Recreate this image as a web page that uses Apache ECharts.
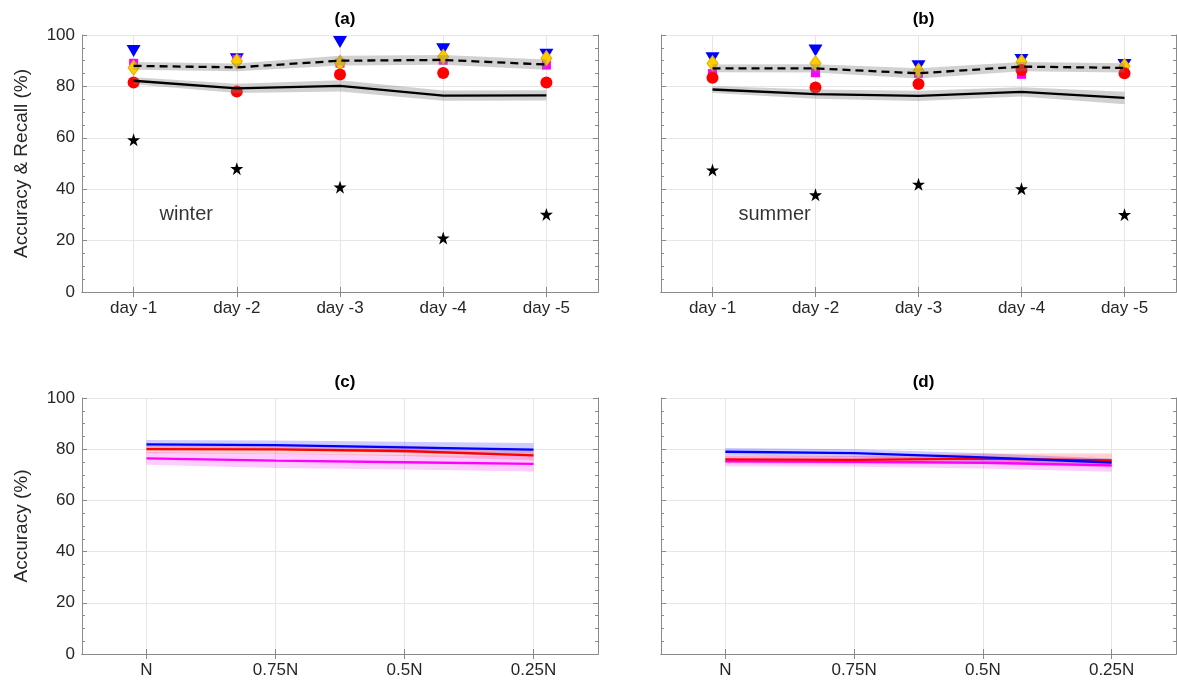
<!DOCTYPE html>
<html>
<head>
<meta charset="utf-8">
<script src="https://cdn.jsdelivr.net/npm/echarts@6/dist/echarts.min.js"></script>
<style>html,body{margin:0;padding:0;background:#fff}#c{width:1177px;height:684px}</style>
</head>
<body>
<div id="c"></div>
<script>
// ---------- data ----------
const dayCats = ['day -1', 'day -2', 'day -3', 'day -4', 'day -5'];
const sizeCats = ['N', '0.75N', '0.5N', '0.25N'];
const yTicks = [0, 20, 40, 60, 80, 100];
const panelTitles = ['(a)', '(b)', '(c)', '(d)'];
const seasonLabels = ['winter', 'summer'];
const seasonLabelY = [30, 30];

// panel (a) winter
const aTriangle = [93.8, 90.6, 97.3, 94.5, 92.3];
const aSquare = [89.0, 90.5, 89.0, 90.2, 88.3];
const aDiamond = [87.3, 89.8, 89.2, 91.5, 91.0];
const aCircle = [81.5, 78.0, 84.6, 85.2, 81.5];
const aDashed = [88.0, 87.4, 90.0, 90.3, 88.5];
const aDashedErr = [1.5, 1.5, 1.9, 1.9, 2.0];
const aSolid = [82.2, 79.2, 80.2, 76.4, 76.5];
const aSolidErr = [1.4, 1.8, 2.2, 2.0, 2.0];
const aStar = [59.2, 48.0, 40.8, 21.0, 30.2];

// panel (b) summer
const bTriangle = [91.0, 94.0, 87.8, 90.3, 88.3];
const bSquare = [85.0, 85.3, 85.1, 84.7, 86.4];
const bDiamond = [89.0, 89.0, 86.1, 89.5, 87.9];
const bCircle = [83.4, 79.6, 80.9, 86.4, 85.1];
const bDashed = [87.0, 87.0, 85.1, 87.7, 87.2];
const bDashedErr = [1.5, 1.6, 2.0, 1.8, 1.8];
const bSolid = [78.8, 77.0, 76.3, 77.9, 75.5];
const bSolidErr = [1.4, 1.8, 2.0, 1.8, 2.4];
const bStar = [47.5, 37.8, 41.9, 40.2, 30.1];

// panel (c)
const cBlue = [81.9, 81.6, 80.7, 79.8];
const cBlueErr = [1.7, 1.8, 2.2, 2.6];
const cRed = [80.0, 79.9, 79.3, 77.6];
const cRedErr = [1.6, 1.8, 2.0, 2.0];
const cMagenta = [76.4, 75.5, 74.9, 74.3];
const cMagentaErr = [2.5, 2.8, 2.8, 3.0];

// panel (d)
const dBlue = [79.0, 78.5, 76.8, 74.8];
const dBlueErr = [1.5, 1.5, 1.6, 1.6];
const dRed = [76.0, 75.8, 76.3, 75.6];
const dRedErr = [1.5, 1.5, 2.0, 2.7];
const dMagenta = [75.3, 75.1, 74.7, 73.7];
const dMagentaErr = [2.0, 2.0, 2.2, 2.5];

// ---------- styling / layout ----------
const FONT = 'Liberation Sans';
const AX = '#8a8a8a';
const GRIDC = '#e6e6e6';
const TXT = '#262626';
const STAR = 'path://M50,0 L61.8,35.1 L98.9,35.1 L68.9,56.9 L80.3,91.9 L50,70.3 L19.7,91.9 L31.1,56.9 L1.1,35.1 L38.2,35.1 Z';

const grids = [
  {left: 82, top: 35, width: 516, height: 257},
  {left: 661, top: 35, width: 515, height: 257},
  {left: 82, top: 398, width: 516, height: 256},
  {left: 661, top: 398, width: 515, height: 256}
];
const gridCats = [dayCats, dayCats, sizeCats, sizeCats];

const xAxes = [], yAxes = [];
grids.forEach((g, i) => {
  const cats = gridCats[i];
  xAxes.push({
    gridIndex: i, type: 'category', data: cats, boundaryGap: true, position: 'bottom',
    axisLine: {lineStyle: {color: AX}},
    axisTick: {show: true, inside: true, alignWithLabel: true, length: 5, lineStyle: {color: AX}},
    axisLabel: {color: TXT, fontSize: 17, fontFamily: FONT, margin: 8, interval: 0},
    splitLine: {show: true, alignWithLabel: true, interval: 0, lineStyle: {color: GRIDC}}
  });
  xAxes.push({
    gridIndex: i, type: 'category', data: cats, boundaryGap: true, position: 'top',
    axisLine: {lineStyle: {color: AX}},
    axisTick: {show: true, inside: true, alignWithLabel: true, length: 5, lineStyle: {color: AX}},
    axisLabel: {show: false}, splitLine: {show: false}
  });
  const leftLabels = (i === 0 || i === 2);
  yAxes.push({
    gridIndex: i, type: 'value', position: 'left',
    min: yTicks[0], max: yTicks[yTicks.length - 1], interval: yTicks[1] - yTicks[0],
    name: i === 0 ? 'Accuracy & Recall (%)' : (i === 2 ? 'Accuracy (%)' : ''),
    nameLocation: 'middle', nameGap: 51,
    nameTextStyle: {color: TXT, fontSize: 19, fontFamily: FONT},
    axisLine: {show: true, lineStyle: {color: AX}},
    axisTick: {show: true, inside: true, length: 5, lineStyle: {color: AX}},
    minorTick: {show: true, splitNumber: 4, length: 3, lineStyle: {color: AX}},
    axisLabel: {show: leftLabels, color: TXT, fontSize: 17, fontFamily: FONT, margin: 7},
    splitLine: {show: true, lineStyle: {color: GRIDC}}
  });
  yAxes.push({
    gridIndex: i, type: 'value', position: 'right',
    min: yTicks[0], max: yTicks[yTicks.length - 1], interval: yTicks[1] - yTicks[0],
    axisLine: {show: true, lineStyle: {color: AX}},
    axisTick: {show: true, inside: true, length: 5, lineStyle: {color: AX}},
    minorTick: {show: true, splitNumber: 4, length: 3, lineStyle: {color: AX}},
    axisLabel: {show: false}, splitLine: {show: false}
  });
});

const series = [];
function band(gi, mean, err, color, z) {
  const lower = mean.map((m, k) => +(m - err[k]).toFixed(2));
  const width = err.map(e => +(2 * e).toFixed(2));
  const stackId = 'band' + series.length;
  series.push({type: 'line', xAxisIndex: 2 * gi, yAxisIndex: 2 * gi, data: lower, stack: stackId,
    symbol: 'none', lineStyle: {opacity: 0}, silent: true, z: z});
  series.push({type: 'line', xAxisIndex: 2 * gi, yAxisIndex: 2 * gi, data: width, stack: stackId,
    symbol: 'none', lineStyle: {opacity: 0}, areaStyle: {color: color, opacity: 1}, silent: true, z: z});
}
function line(gi, data, color, type, z) {
  series.push({type: 'line', xAxisIndex: 2 * gi, yAxisIndex: 2 * gi, data: data, symbol: 'none',
    lineStyle: {color: color, width: 2.3, type: type}, z: z});
}
function marks(gi, data, symbol, size, color, border, rotate, z) {
  series.push({type: 'scatter', xAxisIndex: 2 * gi, yAxisIndex: 2 * gi, data: data, symbol: symbol,
    symbolSize: size, symbolRotate: rotate || 0,
    itemStyle: {color: color, borderColor: border || color, borderWidth: border ? 1 : 0, opacity: 1}, z: z});
}
function season(gi, text, y) {
  series.push({type: 'scatter', xAxisIndex: 2 * gi, yAxisIndex: 2 * gi, data: [[dayCats[0], y]],
    symbolSize: 0, silent: true, z: 5,
    label: {show: true, formatter: text, position: [26, 0], align: 'left', verticalAlign: 'middle',
      color: '#000', fontSize: 20, fontFamily: FONT, textBorderWidth: 0}});
}

const GRAYBAND = 'rgba(128,128,128,0.36)';
const topPanels = [
  [aTriangle, aSquare, aDiamond, aCircle, aDashed, aDashedErr, aSolid, aSolidErr, aStar],
  [bTriangle, bSquare, bDiamond, bCircle, bDashed, bDashedErr, bSolid, bSolidErr, bStar]
];
topPanels.forEach((p, gi) => {
  marks(gi, p[8], STAR, 13, '#000', null, 0, 2);
  marks(gi, p[0], 'triangle', [14, 12], '#0000ff', null, 180, 2);
  marks(gi, p[1], 'rect', 9, '#ff00ff', null, 0, 2);
  marks(gi, p[2], 'diamond', [11, 15], '#ffcc00', '#e0b000', 0, 2);
  marks(gi, p[3], 'circle', 12, '#ff0000', null, 0, 2);
  band(gi, p[4], p[5], GRAYBAND, 3);
  band(gi, p[6], p[7], GRAYBAND, 3);
  line(gi, p[4], '#000', [8, 5], 4);
  line(gi, p[6], '#000', 'solid', 4);
  season(gi, seasonLabels[gi], seasonLabelY[gi]);
});

const botPanels = [
  [cBlue, cBlueErr, cRed, cRedErr, cMagenta, cMagentaErr],
  [dBlue, dBlueErr, dRed, dRedErr, dMagenta, dMagentaErr]
];
botPanels.forEach((p, k) => {
  const gi = k + 2;
  band(gi, p[0], p[1], 'rgba(0,0,255,0.2)', 3);
  band(gi, p[2], p[3], 'rgba(255,0,0,0.18)', 3);
  band(gi, p[4], p[5], 'rgba(255,0,255,0.2)', 3);
  line(gi, p[4], '#ff00ff', 'solid', 4);
  line(gi, p[2], '#ff0000', 'solid', 4);
  line(gi, p[0], '#0000ff', 'solid', 4);
});

const titles = panelTitles.map((t, i) => ({
  text: t, left: grids[i].left + grids[i].width / 2, top: grids[i].top - 29, textAlign: 'center',
  textStyle: {fontSize: 17, fontWeight: 'bold', color: '#000', fontFamily: FONT}
}));

const chart = echarts.init(document.getElementById('c'), null, {renderer: 'canvas'});
chart.setOption({
  animation: false,
  backgroundColor: '#fff',
  title: titles,
  grid: grids,
  xAxis: xAxes,
  yAxis: yAxes,
  series: series
});
</script>
</body>
</html>
